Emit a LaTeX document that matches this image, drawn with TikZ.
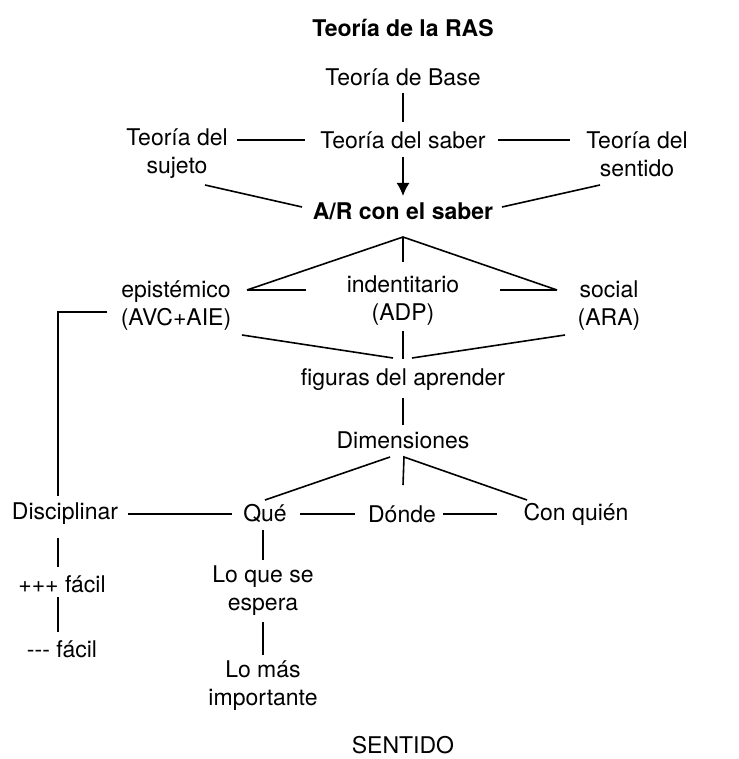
\documentclass[tikz,border=0pt]{standalone}
\usepackage{fontspec}
\setmainfont{TeX Gyre Heros}
\usetikzlibrary{arrows.meta,calc}
\begin{document}
\begin{tikzpicture}[x=1pt,y=-1pt,
  txt/.style={inner sep=0pt,align=center,font=\fontsize{23}{28}\selectfont},
  bold/.style={txt,font=\fontsize{23}{28}\selectfont\bfseries},
  conn/.style={line width=1.6pt,line cap=butt},
  arr/.style={conn,-{Latex[length=13pt,width=13pt]}}]
\useasboundingbox (0,0) rectangle (738,759);
% texts
\node[bold] (title) at (403,28) {Teoría de la RAS};
\node[txt] (base) at (403,77) {Teoría de Base};
\node[txt] (saber) at (403,140) {Teoría del saber};
\node[txt] (suj) at (177,154) {Teoría del\\sujeto};
\node[txt] (sent) at (637,154) {Teoría del\\sentido};
\node[bold] (ar) at (403,211) {A/R con el saber};
\node[txt] (epi) at (176,306) {epistémico\\(AVC+AIE)};
\node[txt] (ide) at (403,301) {indentitario\\(ADP)};
\node[txt] (soc) at (609,306) {social\\(ARA)};
\node[txt] (fig) at (403,380) {figuras del aprender};
\node[txt] (dim) at (403,440) {Dimensiones};
\node[txt] (dis) at (65,514) {Disciplinar};
\node[txt] (que) at (265,514) {Qué};
\node[txt] (don) at (402,514) {Dónde};
\node[txt] (con) at (576,514) {Con quién};
\node[txt] (mas) at (62,584) {+++ fácil};
\node[txt] (men) at (62,649) {{-}{-}{-} fácil};
\node[txt] (esp) at (263,591) {Lo que se\\espera};
\node[txt] (imp) at (263,686) {Lo más\\importante};
\node[txt] (sentido) at (403,745) {SENTIDO};
% connection points
\coordinate (apxA) at (403,237);
\coordinate (epiR) at (247,290);
\coordinate (socL) at (557,290);
\coordinate (figT) at (403,359);
\coordinate (figL) at (393,358);
\coordinate (figR) at (412,358);
\coordinate (dimL) at (390,457);
\coordinate (dimR) at (404,457);
\coordinate (epiL) at (107,312);
\coordinate (corner) at (58,312);
% connectors
\draw[conn] ($(base)+(0,16)$) -- ($(saber)+(0,-18)$);
\draw[conn] ($(suj)+(60,-14)$) -- ($(saber)+(-98,0)$);
\draw[conn] ($(saber)+(95,0)$) -- ($(sent)+(-67,-14)$);
\draw[arr] ($(saber)+(0,17)$) -- ($(ar)+(0,-15)$);
\draw[conn] ($(suj)+(28,31)$) -- ($(ar)+(-101,-4)$);
\draw[conn] ($(sent)+(-37,31)$) -- ($(ar)+(99,-4)$);
\draw[conn] (epiR) -- (apxA) -- (socL);
\draw[conn] (apxA) -- ($(ide)+(0,-39)$);
\draw[conn] (epiR) -- ($(ide)+(-97,-11)$);
\draw[conn] ($(ide)+(97,-11)$) -- (socL);
\draw[conn] ($(epi)+(66,29)$) -- (figL);
\draw[conn] ($(soc)+(-44,29)$) -- (figR);
\draw[conn] ($(ide)+(0,30)$) -- (figT);
\draw[conn] ($(fig)+(0,18)$) -- ($(dim)+(0,-15)$);
\draw[conn] (dimL) -- ($(que)+(0,-14)$);
\draw[conn] ($(don)+(1,-29)$) -- (dimR) -- ($(con)+(-49,-14)$);
\draw[conn] ($(dis)+(63,0)$) -- ($(que)+(-33,0)$);
\draw[conn] ($(que)+(35,0)$) -- ($(don)+(-47,0)$);
\draw[conn] ($(don)+(41,0)$) -- ($(con)+(-79,0)$);
\draw[conn] (epiL) -- (corner) -- ($(dis)+(-7,-18)$);
\draw[conn] ($(dis)+(-7,24)$) -- ($(mas)+(-4,-17)$);
\draw[conn] ($(mas)+(-4,13)$) -- ($(men)+(-4,-17)$);
\draw[conn] ($(que)+(-2,16)$) -- ($(esp)+(0,-31)$);
\draw[conn] ($(esp)+(0,31)$) -- ($(imp)+(0,-31)$);
\end{tikzpicture}
\end{document}
